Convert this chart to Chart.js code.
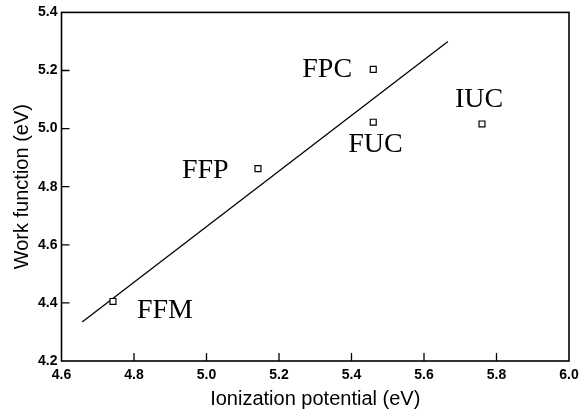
<!DOCTYPE html>
<html>
<head>
<meta charset="utf-8">
<script src="https://cdn.jsdelivr.net/npm/chart.js@4.4.1/dist/chart.umd.min.js"></script>
<style>
  html, body { margin: 0; padding: 0; background: #fff; }
  #wrap { width: 585px; height: 411px; }
</style>
</head>
<body>
<div id="wrap"><canvas id="chart"></canvas></div>
<script>
// measured samples
const sampleNames = ["FFM", "FFP", "FPC", "FUC", "IUC"];
const ionization = [4.742, 5.142, 5.46, 5.46, 5.76];
const workFunction = [4.405, 4.862, 5.204, 5.022, 5.016];

// fitted line endpoints
const fitX = [4.657, 5.666];
const fitY = [4.334, 5.300];

const xTicks = [4.6, 4.8, 5.0, 5.2, 5.4, 5.6, 5.8, 6.0];
const yTicks = [4.2, 4.4, 4.6, 4.8, 5.0, 5.2, 5.4];

// label offsets in px from each marker (dx, dy to baseline start)
const labelOffsets = [[24, 17], [-76, 9], [-71, 8], [-25, 30], [-27, -17]];

const framePlugin = {
  id: "frame",
  afterDraw(chart) {
    const ctx = chart.ctx;
    const a = chart.chartArea;
    const xs = chart.scales.x, ys = chart.scales.y;
    ctx.save();
    ctx.strokeStyle = "#000";
    ctx.lineWidth = 1.6;
    ctx.strokeRect(a.left, a.top, a.right - a.left, a.bottom - a.top);
    ctx.lineWidth = 1.3;
    ctx.beginPath();
    xTicks.slice(1, -1).forEach(function (v) {
      const px = xs.getPixelForValue(v);
      ctx.moveTo(px, a.bottom);
      ctx.lineTo(px, a.bottom - 8);
    });
    yTicks.slice(1, -1).forEach(function (v) {
      const py = ys.getPixelForValue(v);
      ctx.moveTo(a.left, py);
      ctx.lineTo(a.left + 8, py);
    });
    ctx.stroke();

    ctx.fillStyle = "#000";
    ctx.font = "28px 'Liberation Serif', serif";
    ctx.textBaseline = "alphabetic";
    ctx.textAlign = "left";
    sampleNames.forEach(function (name, i) {
      const px = xs.getPixelForValue(ionization[i]);
      const py = ys.getPixelForValue(workFunction[i]);
      ctx.fillText(name, px + labelOffsets[i][0], py + labelOffsets[i][1]);
    });
    ctx.restore();
  }
};

const ctx = document.getElementById("chart").getContext("2d");
const myChart = new Chart(ctx, {
  type: "scatter",
  data: {
    datasets: [
      {
        label: "samples",
        data: ionization.map(function (x, i) { return { x: x, y: workFunction[i] }; }),
        pointStyle: "rect",
        pointRadius: 4.2,
        pointBorderColor: "#000",
        pointBackgroundColor: "#fff",
        pointBorderWidth: 1.2,
        showLine: false,
      },
      {
        label: "fit",
        data: fitX.map(function (x, i) { return { x: x, y: fitY[i] }; }),
        showLine: true,
        borderColor: "#000",
        borderWidth: 1.3,
        pointRadius: 0,
        fill: false,
      },
    ],
  },
  options: {
    responsive: true,
    maintainAspectRatio: false,
    animation: false,
    layout: { padding: { top: 11, right: 16, left: 0, bottom: 0 } },
    plugins: { legend: { display: false }, tooltip: { enabled: false } },
    scales: {
      x: {
        type: "linear",
        min: 4.6,
        max: 6.0,
        afterBuildTicks: function (s) { s.ticks = xTicks.map(function (v) { return { value: v }; }); },
        afterFit: function (s) { s.height = 50; },
        grid: { display: false, drawTicks: false },
        border: { display: false },
        ticks: {
          color: "#000",
          padding: 6,
          maxRotation: 0,
          font: { family: "'Liberation Sans', Arial, sans-serif", size: 14, weight: "bold" },
          callback: function (v) { return Number(v).toFixed(1); },
        },
        title: {
          display: true,
          text: "Ionization potential (eV)",
          color: "#000",
          padding: { top: 0, bottom: 0 },
          font: { family: "'Liberation Sans', Arial, sans-serif", size: 20 },
        },
      },
      y: {
        type: "linear",
        min: 4.2,
        max: 5.4,
        afterBuildTicks: function (s) { s.ticks = yTicks.map(function (v) { return { value: v }; }); },
        afterFit: function (s) { s.width = 61.5; },
        grid: { display: false, drawTicks: false },
        border: { display: false },
        ticks: {
          color: "#000",
          padding: 4,
          font: { family: "'Liberation Sans', Arial, sans-serif", size: 14, weight: "bold" },
          callback: function (v) { return Number(v).toFixed(1); },
        },
        title: {
          display: true,
          text: "Work function (eV)",
          color: "#000",
          padding: { top: 10, bottom: 0 },
          font: { family: "'Liberation Sans', Arial, sans-serif", size: 20 },
        },
      },
    },
  },
  plugins: [framePlugin],
});
</script>
</body>
</html>
